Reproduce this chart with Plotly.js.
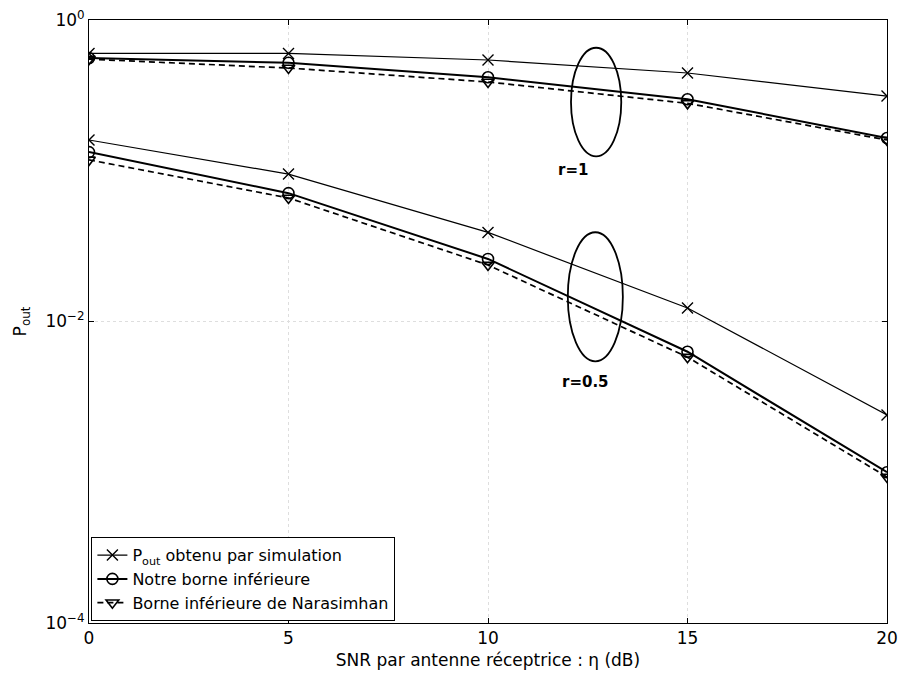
<!DOCTYPE html>
<html>
<head>
<meta charset="utf-8">
<script src="https://cdn.plot.ly/plotly-3.0.1.min.js"></script>
<style>
  html, body { margin: 0; padding: 0; background: #fff; }
  #chart { width: 901px; height: 674px; }
</style>
</head>
<body>
<div id="chart"></div>
<script>
// SNR per receive antenna (dB)
const snr = [0, 5, 10, 15, 20];

// r = 1
const simR1  = [0.60, 0.60, 0.543, 0.445, 0.313];
const lbR1   = [0.56, 0.52, 0.417, 0.298, 0.165];
const narR1  = [0.55, 0.48, 0.388, 0.280, 0.160];

// r = 0.5
const simR05 = [0.160, 0.095, 0.039, 0.0123, 0.0024];
const lbR05  = [0.133, 0.071, 0.026, 0.0063, 0.0010];
const narR05 = [0.118, 0.066, 0.0237, 0.0058, 0.00093];

const yTickVals = [1e-4, 1e-2, 1];
const yTickText = ['10<sup>−4</sup>', '10<sup>−2</sup>', '10<sup>0</sup>'];

const legendNames = [
  'P<sub>out</sub> obtenu par simulation',
  'Notre borne inférieure',
  'Borne inférieure de Narasimhan'
];

const font = 'DejaVu Sans, Liberation Sans, Arial, sans-serif';

const simStyle = {
  mode: 'lines+markers',
  line: { color: '#000', width: 1.2 },
  marker: { symbol: 'x-thin-open', size: 11, color: '#000', line: { width: 1.4, color: '#000' } }
};
const lbStyle = {
  mode: 'lines+markers',
  line: { color: '#000', width: 2 },
  marker: { symbol: 'circle-open', size: 11, color: '#000', line: { width: 1.6, color: '#000' } }
};
const narStyle = {
  mode: 'lines+markers',
  line: { color: '#000', width: 1.7, dash: '6px,4px' },
  marker: { symbol: 'triangle-down-open', size: 11, color: '#000', line: { width: 1.6, color: '#000' } }
};

const traces = [
  Object.assign({ x: snr, y: simR1, name: legendNames[0], legendgroup: 'a' }, simStyle),
  Object.assign({ x: snr, y: lbR1, name: legendNames[1], legendgroup: 'b' }, lbStyle),
  Object.assign({ x: snr, y: narR1, name: legendNames[2], legendgroup: 'c' }, narStyle),
  Object.assign({ x: snr, y: simR05, name: legendNames[0], legendgroup: 'a', showlegend: false }, simStyle),
  Object.assign({ x: snr, y: lbR05, name: legendNames[1], legendgroup: 'b', showlegend: false }, lbStyle),
  Object.assign({ x: snr, y: narR05, name: legendNames[2], legendgroup: 'c', showlegend: false }, narStyle)
];

const gridColor = '#dedede';

const layout = {
  width: 901,
  height: 674,
  margin: { l: 89, r: 14, t: 20, b: 51 },
  paper_bgcolor: '#fff',
  plot_bgcolor: '#fff',
  font: { family: font, size: 17, color: '#000' },
  showlegend: true,
  legend: {
    x: 0.003, y: 0.003, xanchor: 'left', yanchor: 'bottom',
    bgcolor: '#fff', bordercolor: '#000', borderwidth: 1,
    font: { family: font, size: 16, color: '#000' },
    tracegroupgap: 0, itemwidth: 30
  },
  xaxis: {
    range: [0, 20],
    tickvals: snr,
    ticks: 'inside', ticklen: 5, tickcolor: '#000',
    showline: true, linecolor: '#000', linewidth: 1, mirror: 'ticks',
    showgrid: true, gridcolor: gridColor, griddash: 'dot', gridwidth: 1,
    zeroline: false,
    tickfont: { family: font, size: 17 },
    title: { text: 'SNR par antenne réceptrice : η (dB)', font: { family: font, size: 17 }, standoff: 6 }
  },
  yaxis: {
    type: 'log',
    range: [-4, 0],
    tickvals: yTickVals,
    ticktext: yTickText,
    ticks: 'inside', ticklen: 5, tickcolor: '#000',
    showline: true, linecolor: '#000', linewidth: 1, mirror: 'ticks',
    showgrid: true, gridcolor: gridColor, griddash: 'dot', gridwidth: 1,
    zeroline: false,
    tickfont: { family: font, size: 17 },
    title: { text: 'P<sub>out</sub>', font: { family: font, size: 17 }, standoff: 14 }
  },
  shapes: [
    { type: 'circle', xref: 'paper', yref: 'paper', x0: 0.604, x1: 0.667, y0: 0.774, y1: 0.954,
      line: { color: '#000', width: 1.8 } },
    { type: 'circle', xref: 'paper', yref: 'paper', x0: 0.600, x1: 0.669, y0: 0.434, y1: 0.648,
      line: { color: '#000', width: 1.8 } }
  ],
  annotations: [
    { xref: 'paper', yref: 'paper', x: 0.607, y: 0.769, text: '<b>r=1</b>', showarrow: false,
      font: { family: font, size: 15, color: '#000' } },
    { xref: 'paper', yref: 'paper', x: 0.622, y: 0.400, text: '<b>r=0.5</b>', showarrow: false,
      font: { family: font, size: 15, color: '#000' } }
  ]
};

Plotly.newPlot('chart', traces, layout, { displayModeBar: false, staticPlot: true });
</script>
</body>
</html>
